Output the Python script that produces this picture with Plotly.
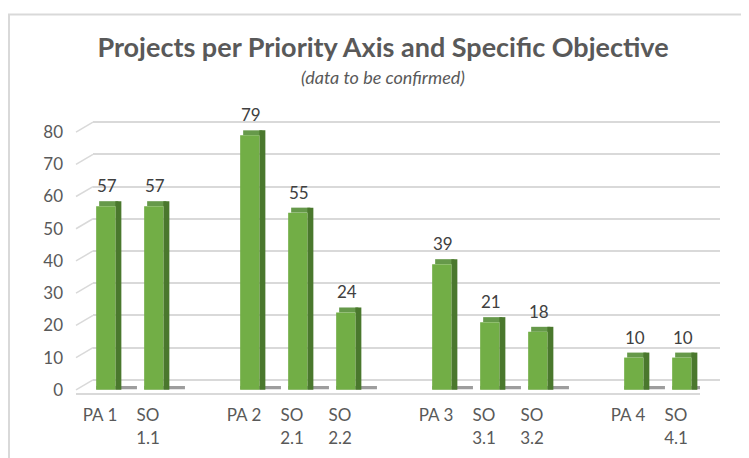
import plotly.graph_objects as go

# ---- data ----
categories = ["PA 1", "SO 1.1", "\u200b", "PA 2", "SO 2.1", "SO 2.2", "\u200b\u200b",
              "PA 3", "SO 3.1", "SO 3.2", "\u200b\u200b\u200b", "PA 4", "SO 4.1"]
tick_labels = ["PA 1", "SO<br>1.1", "", "PA 2", "SO<br>2.1", "SO<br>2.2", "",
               "PA 3", "SO<br>3.1", "SO<br>3.2", "", "PA 4", "SO<br>4.1"]
values = [57, 57, None, 79, 55, 24, None, 39, 21, 18, None, 10, 10]
y_ticks = [0, 10, 20, 30, 40, 50, 60, 70, 80]

title = "Projects per Priority Axis and Specific Objective"
subtitle = "(data to be confirmed)"

# ---- style ----
FRONT = "#72ae46"
TOP = "#66994a"
SIDE = "#4a782d"
GRID = "#d9d9d9"
TXT = "#595959"
FONT = "Lato"
DEPTH = 1.55          # 3D depth in value units
BAR_OFF = -0.08       # front-face offset within slot
BAR_W = 0.40

# page offset (body margin) compensation: plot area 68..712 x 108..385
L, T, B = 68, 108, 385
PW, PH = 644, 277

has = [v is not None for v in values]
shadow_y = [1.0 if h else None for h in has]
top_base = values
top_y = [DEPTH if h else None for h in has]
side_y = [v + DEPTH if v is not None else None for v in values]

fig = go.Figure()

# back-wall gridlines subplot (x, y)
fig.add_trace(go.Scatter(x=[0], y=[0], xaxis="x", yaxis="y", mode="markers",
                         marker=dict(opacity=0), hoverinfo="skip", showlegend=False))

# bars subplot (x2, y2)
fig.add_trace(go.Bar(x=categories, y=shadow_y, base=0.2, xaxis="x2", yaxis="y2",
                     offset=BAR_OFF, width=0.85,
                     marker=dict(color="rgba(60,60,60,0.5)", line=dict(width=0)),
                     hoverinfo="skip", showlegend=False))
fig.add_trace(go.Bar(x=categories, y=top_y, base=top_base, xaxis="x2", yaxis="y2",
                     offset=BAR_OFF + 0.0625, width=BAR_W,
                     marker=dict(color=TOP, line=dict(width=0)),
                     hoverinfo="skip", showlegend=False))
fig.add_trace(go.Bar(x=categories, y=side_y, xaxis="x2", yaxis="y2",
                     offset=BAR_OFF + BAR_W, width=0.125,
                     marker=dict(color=SIDE, line=dict(width=0)),
                     hoverinfo="skip", showlegend=False))
fig.add_trace(go.Bar(x=categories, y=values, xaxis="x2", yaxis="y2",
                     offset=BAR_OFF, width=BAR_W,
                     marker=dict(color=FRONT, line=dict(width=0)),
                     showlegend=False))

# data labels
for c, v in zip(categories, values):
    if v is None:
        continue
    fig.add_annotation(x=c, y=v, xref="x2", yref="y2", text=str(v), showarrow=False,
                       yanchor="bottom", yshift=8, xshift=7,
                       font=dict(family=FONT, size=17, color="#404040"))

# left wall edges (diagonals)
for t in y_ticks:
    fig.add_shape(type="line", xref="paper", yref="y2",
                  x0=0, x1=17 / PW, y0=t, y1=t + 3.1,
                  line=dict(color=GRID, width=1.5), layer="below")

# chart border
fig.add_shape(type="rect", xref="paper", yref="paper",
              x0=(1 - L) / PW, x1=1.3, y0=-0.5, y1=(B - 6.5) / PH,
              line=dict(color=GRID, width=2), fillcolor="rgba(0,0,0,0)", layer="below")

fig.add_annotation(x=0.5, y=(B - 69) / PH, xref="paper", yref="paper",
                   yanchor="middle", xanchor="center",
                   text="<i>" + subtitle + "</i>", showarrow=False,
                   xshift=(375 - (L + PW / 2)), font=dict(family=FONT, size=18, color=TXT))

fig.update_layout(
    width=749, height=458,
    margin=dict(l=L, r=749 - L - PW, t=T, b=458 - B),
    paper_bgcolor="white", plot_bgcolor="rgba(0,0,0,0)",
    barmode="overlay",
    title=dict(text="<b>" + title + "</b>", x=375 / 749, xanchor="center",
               xref="container", y=1 - 40 / 458, yref="container", yanchor="middle",
               font=dict(family=FONT, size=27, color=TXT)),
    xaxis=dict(domain=[17 / PW, 1], range=[0, 1], visible=False, fixedrange=True,
               automargin=False),
    yaxis=dict(range=[-1 - 3.1, 85 - 3.1], tickvals=y_ticks, showgrid=True,
               gridcolor=GRID, gridwidth=1.5, showticklabels=False, zeroline=False,
               showline=False, ticks="", automargin=False),
    xaxis2=dict(domain=[0, 624 / PW], anchor="y2", type="category",
                categoryorder="array", categoryarray=categories,
                range=[-0.5, 12.5], tickvals=categories, ticktext=tick_labels,
                showgrid=False, showline=True, linecolor=GRID, linewidth=2,
                ticks="", ticklabelstandoff=6, automargin=False,
                tickfont=dict(family=FONT, size=17, color=TXT)),
    yaxis2=dict(domain=[0, 1], anchor="x2", range=[-1, 85], tickvals=y_ticks,
                showgrid=False, zeroline=False, showline=False, ticks="",
                ticklabelstandoff=12, automargin=False,
                tickfont=dict(family=FONT, size=17, color=TXT)),
    font=dict(family=FONT),
)

fig.write_html("out.html")
